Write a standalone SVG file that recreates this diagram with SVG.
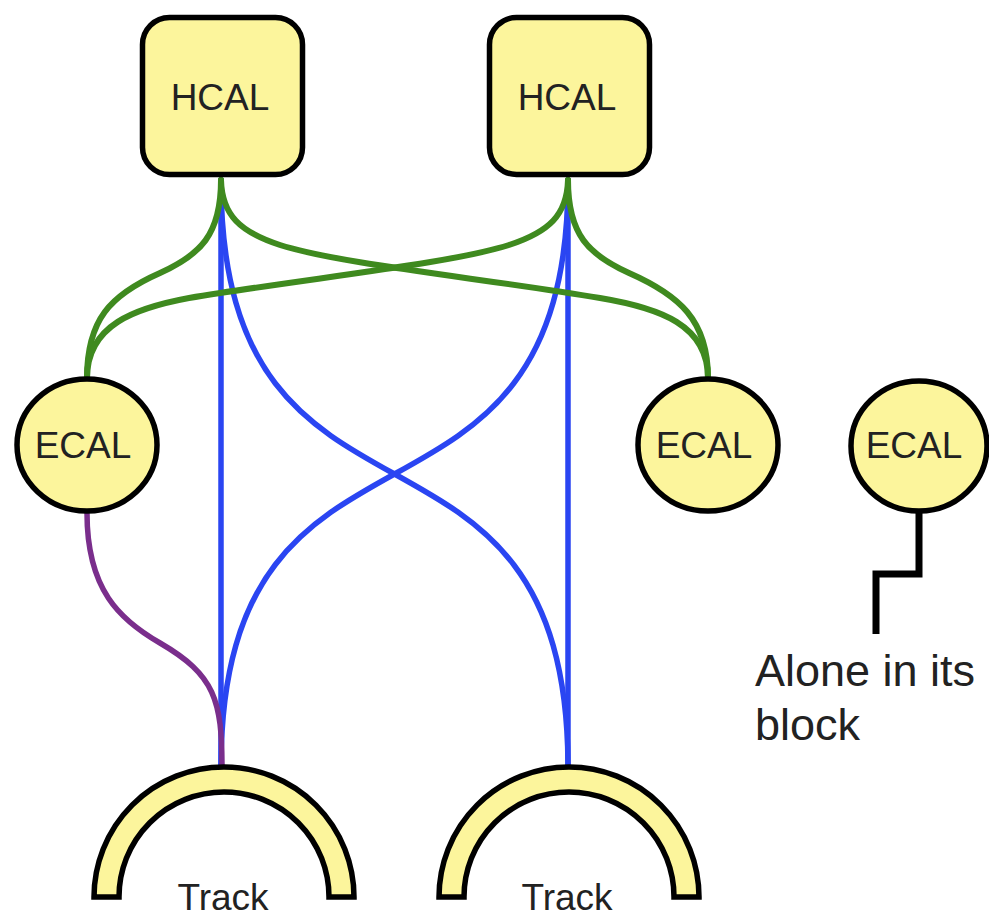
<svg xmlns="http://www.w3.org/2000/svg" width="989" height="919" viewBox="0 0 989 919">
<style>
.node{fill:#fcf59c;stroke:#000;stroke-width:5.5}
.lbl{font-family:"Liberation Sans",Arial,sans-serif;font-size:37px;fill:#222;text-anchor:middle}
.free{font-family:"Liberation Sans",Arial,sans-serif;font-size:45px;fill:#222}
.c{fill:none;stroke-linecap:round}
.g{stroke:#3f8a1f;stroke-width:6}
.b{stroke:#2a45f2;stroke-width:5.5}
.p{stroke:#7a2e8c;stroke-width:5.5}
</style>
<rect width="989" height="919" fill="#fff"/>
<g id="connectors">
  <path class="c b" d="M221,180 L221,768"/>
  <path class="c b" d="M568,180 L568,768"/>
  <path class="c b" d="M221,180 C221,576 568,372 568,768"/>
  <path class="c b" d="M568,180 C568,576 221,372 221,768"/>
  <path class="c g" d="M221,180 C221,235 200,255 160,273 C110,295 87,320 87,378"/>
  <path class="c g" d="M221,180 C222,215 240,232 280,245 C340,264 480,278 600,298 C660,308 708,325 708,378"/>
  <path class="c g" d="M568,180 C567,215 549,232 509,245 C449,264 309,278 189,298 C135,308 87,325 87,378"/>
  <path class="c g" d="M568,180 C568,235 589,255 629,273 C679,295 708,320 708,378"/>
  <path class="c p" d="M87,513 C87,590 120,620 160,643 C215,675 222,700 222,768"/>
  <path d="M919,512 L919,574 L876,574 L876,634" fill="none" stroke="#000" stroke-width="7"/>
</g>
<g id="hcal1">
  <rect class="node" x="142.5" y="17.5" width="160" height="157" rx="27"/>
  <text class="lbl" x="220" y="110">HCAL</text>
</g>
<g id="hcal2">
  <rect class="node" x="489.5" y="17.5" width="160" height="157" rx="27"/>
  <text class="lbl" x="567" y="110">HCAL</text>
</g>
<g id="ecal1">
  <ellipse class="node" cx="87" cy="445" rx="70" ry="66"/>
  <text class="lbl" x="83" y="458">ECAL</text>
</g>
<g id="ecal2">
  <ellipse class="node" cx="708" cy="445" rx="70" ry="66"/>
  <text class="lbl" x="704" y="458">ECAL</text>
</g>
<g id="ecal3">
  <ellipse class="node" cx="919" cy="446" rx="68" ry="65"/>
  <text class="lbl" x="914" y="458">ECAL</text>
</g>
<g id="track1">
  <path class="node" d="M94,897 A130,130 0 0 1 354,897 L329,897 A105,105 0 0 0 119,897 Z"/>
  <text class="lbl" x="223" y="910">Track</text>
</g>
<g id="track2">
  <path class="node" d="M439,897 A130,130 0 0 1 699,897 L674,897 A105,105 0 0 0 464,897 Z"/>
  <text class="lbl" x="567" y="910">Track</text>
</g>
<g id="note">
  <text class="free" x="755" y="686">Alone in its</text>
  <text class="free" x="755" y="740">block</text>
</g>
</svg>
